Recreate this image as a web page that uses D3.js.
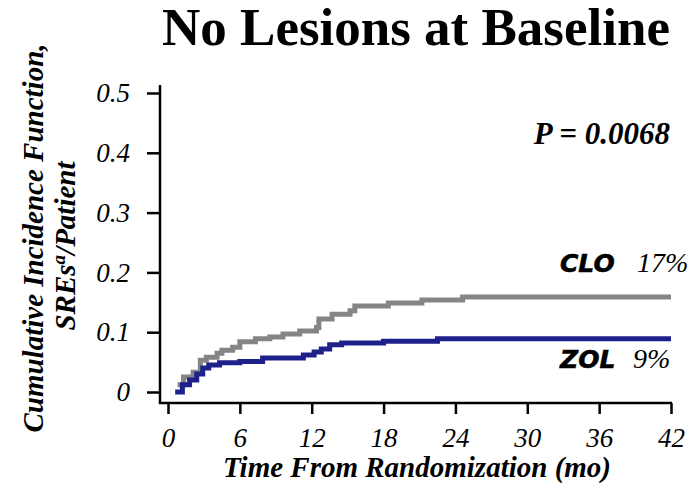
<!DOCTYPE html>
<html lang="en">
<head>
<meta charset="UTF-8">
<title>No Lesions at Baseline</title>
<style>
  body { margin: 0; padding: 0; background: #fff; }
  svg { display: block; }
  .serif { font-family: "Liberation Serif", "Times New Roman", serif; }
  .tick text { font-family: "Liberation Serif", "Times New Roman", serif; font-style: italic; font-size: 27px; fill: #000; }
  .tick line { stroke: #000; stroke-width: 2.5px; }
</style>
</head>
<body>
<div id="chart"></div>
<script src="https://cdn.jsdelivr.net/npm/d3@7"></script>
<script>
// months from randomization, step times
const cloTimes  = [0.8, 1.3, 2.1, 2.7, 3.2, 4.1, 4.5, 5.4, 6.0, 7.3, 8.5, 9.6, 11.0, 12.4, 12.6, 13.7, 15.2, 15.6, 18.4, 21.2, 24.6, 42];
const cloValues = [0.012, 0.025, 0.033, 0.053, 0.058, 0.065, 0.070, 0.075, 0.084, 0.089, 0.092, 0.097, 0.102, 0.108, 0.122, 0.130, 0.136, 0.144, 0.149, 0.154, 0.159, 0.159];

const zolTimes  = [0.6, 1.2, 1.8, 2.4, 2.9, 3.4, 4.3, 6.0, 7.9, 11.3, 12.2, 12.8, 13.5, 14.5, 18.0, 22.5, 42];
const zolValues = [0.0, 0.012, 0.020, 0.030, 0.040, 0.045, 0.049, 0.051, 0.057, 0.062, 0.067, 0.072, 0.079, 0.082, 0.085, 0.089, 0.089];

const xTicks = [0, 6, 12, 18, 24, 30, 36, 42];
const yTicks = [0, 0.1, 0.2, 0.3, 0.4, 0.5];

const W = 696, H = 487;

const svg = d3.select("#chart").append("svg")
  .attr("width", W)
  .attr("height", H);

const x = d3.scaleLinear().domain([0, 42]).range([168, 671]);
const y = d3.scaleLinear().domain([0, 0.5]).range([392, 93]);

const axisX = 403, axisY = 160;

// title
svg.append("text")
  .attr("class", "serif")
  .attr("x", 416).attr("y", 45)
  .attr("text-anchor", "middle")
  .attr("font-weight", "bold")
  .attr("font-size", 53)
  .text("No Lesions at Baseline");

// axes
svg.append("g")
  .attr("transform", "translate(" + axisY + ",0)")
  .call(d3.axisLeft(y).tickValues(yTicks).tickSize(13).tickPadding(17)
    .tickFormat(d => d === 0 ? "0" : d3.format(".1f")(d)))
  .call(g => g.select(".domain").remove());

svg.append("g")
  .attr("transform", "translate(0," + axisX + ")")
  .call(d3.axisBottom(x).tickValues(xTicks).tickSize(11).tickPadding(14))
  .call(g => g.select(".domain").remove());

svg.append("line")
  .attr("x1", axisY).attr("x2", axisY)
  .attr("y1", 85).attr("y2", axisX + 1)
  .attr("stroke", "#000").attr("stroke-width", 2.5);

svg.append("line")
  .attr("x1", axisY - 1).attr("x2", x(42) + 1)
  .attr("y1", axisX).attr("y2", axisX)
  .attr("stroke", "#000").attr("stroke-width", 2.5);

// curves
const line = d3.line()
  .x(d => x(d[0]))
  .y(d => y(d[1]))
  .curve(d3.curveStepAfter);

svg.append("path")
  .datum(d3.zip(cloTimes, cloValues))
  .attr("d", line)
  .attr("fill", "none")
  .attr("stroke", "#858585")
  .attr("stroke-width", 5);

svg.append("path")
  .datum(d3.zip(zolTimes, zolValues))
  .attr("d", line)
  .attr("fill", "none")
  .attr("stroke", "#1f218a")
  .attr("stroke-width", 5);

// P value
svg.append("text")
  .attr("class", "serif")
  .attr("x", 670).attr("y", 144)
  .attr("text-anchor", "end")
  .attr("font-weight", "bold")
  .attr("font-style", "italic")
  .attr("font-size", 31)
  .text("P = 0.0068");

// group labels
function groupLabel(name, pct, yy, pctX) {
  svg.append("text")
    .attr("x", 560).attr("y", yy)
    .attr("font-family", "'DejaVu Sans', Arial, sans-serif")
    .attr("font-weight", "bold")
    .attr("font-style", "italic")
    .attr("font-size", 25)
    .attr("stroke", "#000")
    .attr("stroke-width", 0.6)
    .text(name);
  svg.append("text")
    .attr("class", "serif")
    .attr("x", pctX).attr("y", yy)
    .attr("font-style", "italic")
    .attr("font-size", 28)
    .text(pct);
}
groupLabel("CLO", "17%", 272, 637);
groupLabel("ZOL", "9%", 368, 633);

// axis titles
svg.append("text")
  .attr("class", "serif")
  .attr("x", 417).attr("y", 477)
  .attr("text-anchor", "middle")
  .attr("font-weight", "bold")
  .attr("font-style", "italic")
  .attr("font-size", 29)
  .text("Time From Randomization (mo)");

svg.append("text")
  .attr("class", "serif")
  .attr("transform", "translate(43,238) rotate(-90)")
  .attr("text-anchor", "middle")
  .attr("font-weight", "bold")
  .attr("font-style", "italic")
  .attr("font-size", 29)
  .text("Cumulative Incidence Function,");

const t2 = svg.append("text")
  .attr("class", "serif")
  .attr("transform", "translate(75,246) rotate(-90)")
  .attr("text-anchor", "middle")
  .attr("font-weight", "bold")
  .attr("font-style", "italic")
  .attr("font-size", 29);
t2.append("tspan").text("SREs");
t2.append("tspan").attr("dy", -10).attr("font-size", 19).text("a");
t2.append("tspan").attr("dy", 10).text("/Patient");
</script>
</body>
</html>
